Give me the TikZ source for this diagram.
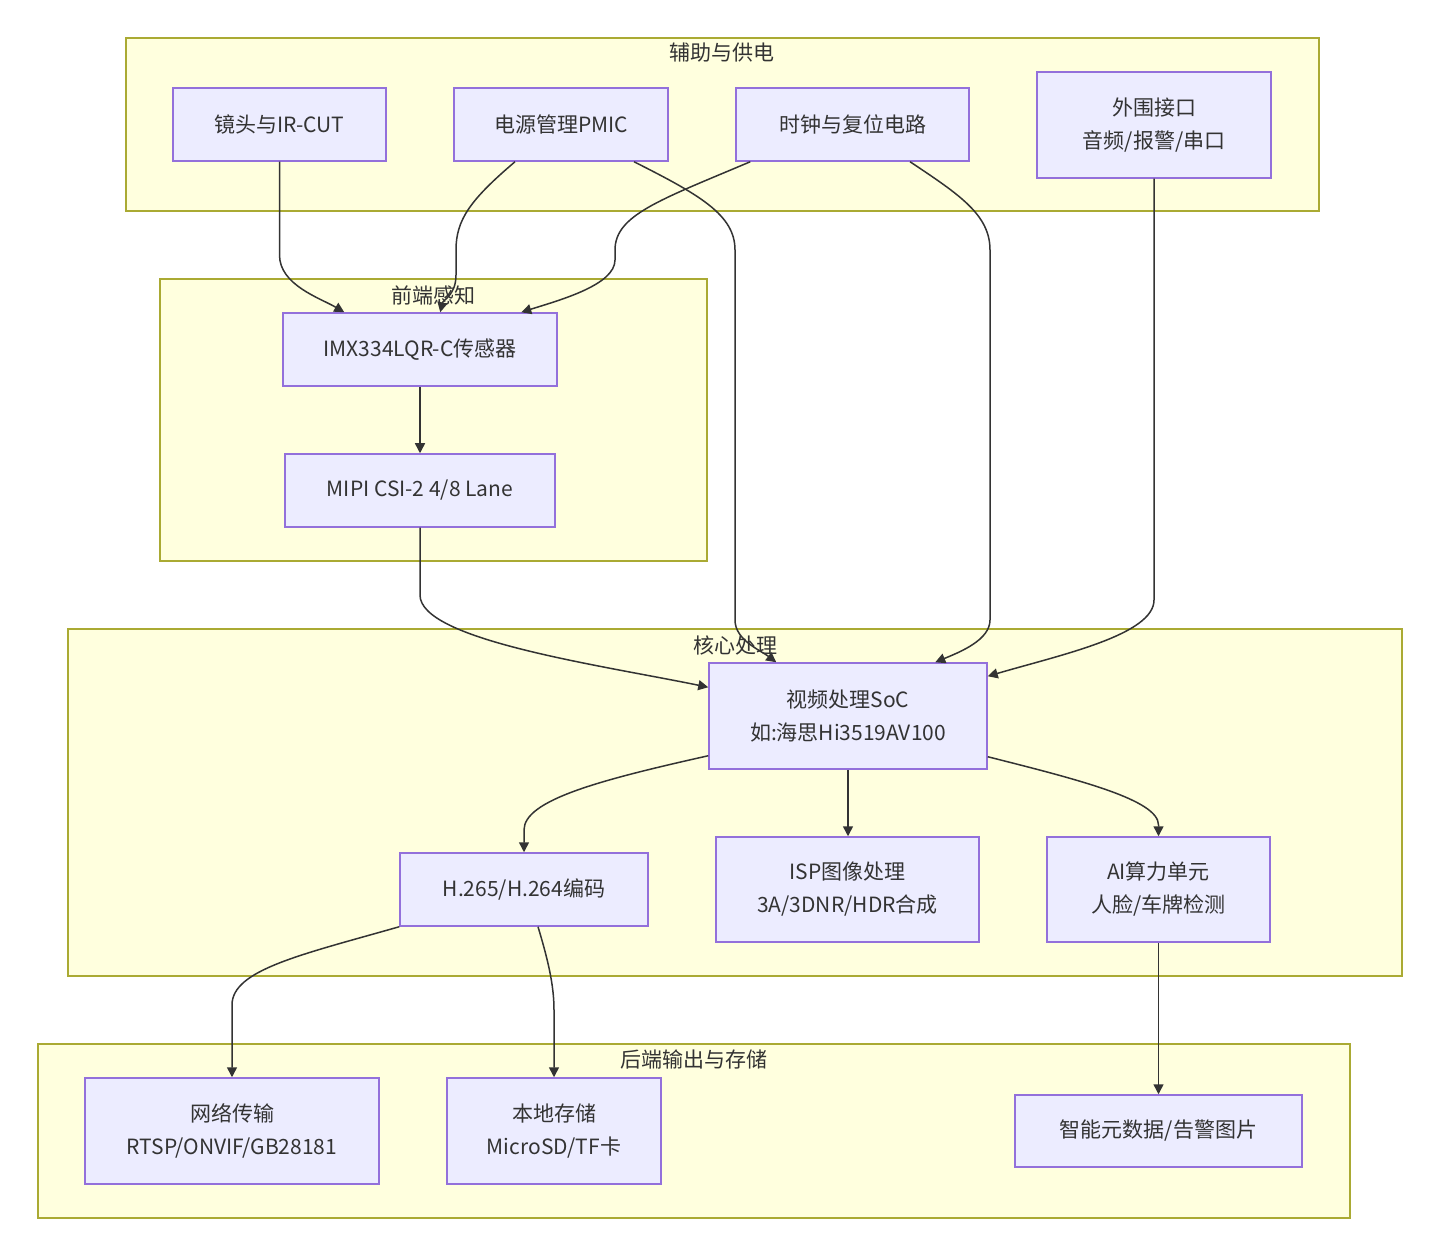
\documentclass[tikz,border=0pt]{standalone}
\usepackage{fontspec}
\setmainfont{Noto Sans CJK SC}
\usetikzlibrary{arrows.meta,calc}
\definecolor{clfill}{HTML}{FFFFDE}
\definecolor{cldraw}{HTML}{AAAA33}
\definecolor{ndfill}{HTML}{ECECFF}
\definecolor{nddraw}{HTML}{9370DB}
\definecolor{txt}{HTML}{333333}
\tikzset{
  cluster/.style={fill=clfill,draw=cldraw,line width=0.75pt},
  cltitle/.style={text=txt,font=\fontsize{10.5pt}{13pt}\selectfont,inner sep=0},
  box/.style={rectangle,fill=ndfill,draw=nddraw,line width=0.75pt,text=txt,
    font=\fontsize{10.5pt}{16.5pt}\selectfont,align=center,inner sep=0},
  conn/.style={draw=txt,line width=0.75pt,-{Triangle[length=5pt,width=5pt]}},
}
\begin{document}
\begin{tikzpicture}[x=0.5pt,y=-0.5pt]
\fill[white] (0,0) rectangle (1440,1256);
\useasboundingbox (0,0) rectangle (1440,1256);
% clusters
\draw[cluster] (126,38) rectangle (1319,211);
\node[cltitle] (t1) at (722,53) {辅助与供电};
\draw[cluster] (160,279) rectangle (707,561);
\node[cltitle] (t2) at (433,295) {前端感知};
\draw[cluster] (68,629) rectangle (1402,976);
\node[cltitle] (t3) at (735,645) {核心处理};
\draw[cluster] (38,1044) rectangle (1350,1218);
\node[cltitle] (t4) at (694,1060) {后端输出与存储};
% nodes
\node[box,minimum width=106.5pt,minimum height=36.5pt] (lens) at (279.5,124.5) {镜头与IR-CUT};
\node[box,minimum width=107pt,minimum height=36.5pt] (pmic) at (561,124.5) {电源管理PMIC};
\node[box,minimum width=116.5pt,minimum height=36.5pt] (clk) at (852.5,124.5) {时钟与复位电路};
\node[box,minimum width=117pt,minimum height=53pt] (periph) at (1154,125) {外围接口\\音频/报警/串口};
\node[box,minimum width=137pt,minimum height=36.5pt] (sensor) at (420,349.5) {IMX334LQR-C传感器};
\node[box,minimum width=135pt,minimum height=36.5pt] (mipi) at (420,490.5) {MIPI CSI-2 4/8 Lane};
\node[box,minimum width=139pt,minimum height=53pt] (soc) at (848,716) {视频处理SoC\\如:海思Hi3519AV100};
\node[box,minimum width=124pt,minimum height=36.5pt] (enc) at (524,889.5) {H.265/H.264编码};
\node[box,minimum width=131.5pt,minimum height=52.5pt] (isp) at (847.5,889.5) {ISP图像处理\\3A/3DNR/HDR合成};
\node[box,minimum width=111.5pt,minimum height=52.5pt] (ai) at (1158.5,889.5) {AI算力单元\\人脸/车牌检测};
\node[box,minimum width=147pt,minimum height=53pt] (net) at (232,1131) {网络传输\\RTSP/ONVIF/GB28181};
\node[box,minimum width=107pt,minimum height=53pt] (local) at (554,1131) {本地存储\\MicroSD/TF卡};
\node[box,minimum width=143.5pt,minimum height=36pt] (meta) at (1158.5,1131) {智能元数据/告警图片};
% connectors
\draw[conn] (lens.south) -- (279.5,255) .. controls (279.5,285) and (320,298) .. ($(sensor.north west)+(62,0)$);
\draw[conn] ($(pmic.south)+(-46,0)$) .. controls (470,200) and (456,220) .. (456,250) -- (456,275) .. controls (456,295) and (443,300) .. ($(sensor.north west)+(158,0)$);
\draw[conn] ($(clk.south west)+(15,0)$) .. controls (660,200) and (615,215) .. (615,250) -- (615,260) .. controls (615,285) and (560,300) .. ($(sensor.north west)+(239,0)$);
\draw[conn] ($(pmic.south)+(73,0)$) .. controls (700,195) and (735,215) .. (735,250) -- (735,620) .. controls (735,640) and (760,650) .. ($(soc.north west)+(68,0)$);
\draw[conn] ($(clk.south)+(57.5,0)$) .. controls (960,195) and (990,215) .. (990,250) -- (990,620) .. controls (990,640) and (960,652) .. ($(soc.north west)+(227,0)$);
\draw[conn] (periph.south) -- (1154,600) .. controls (1154,635) and (1060,655) .. ($(soc.north east)+(0,14)$);
\draw[conn] (sensor.south) -- (mipi.north);
\draw[conn] (mipi.south) -- (420,595) .. controls (420,640) and (600,665) .. ($(soc.north west)+(0,25)$);
\draw[conn] ($(soc.south west)+(0,-14)$) .. controls (600,780) and (524,800) .. (524,830) -- (enc.north);
\draw[conn] (soc.south) -- (soc.south |- isp.north);
\draw[conn] ($(soc.south east)+(0,-13)$) .. controls (1080,780) and (1158.5,800) .. (1158.5,825) -- (ai.north);
\draw[conn] (enc.south west) .. controls (300,955) and (232,970) .. (232,1005) -- (net.north);
\draw[conn] ($(enc.south)+(14,0)$) .. controls (548,960) and (554,985) .. (554,1010) -- (local.north);
\draw[conn] (ai.south) -- (meta.north);
\end{tikzpicture}
\end{document}
